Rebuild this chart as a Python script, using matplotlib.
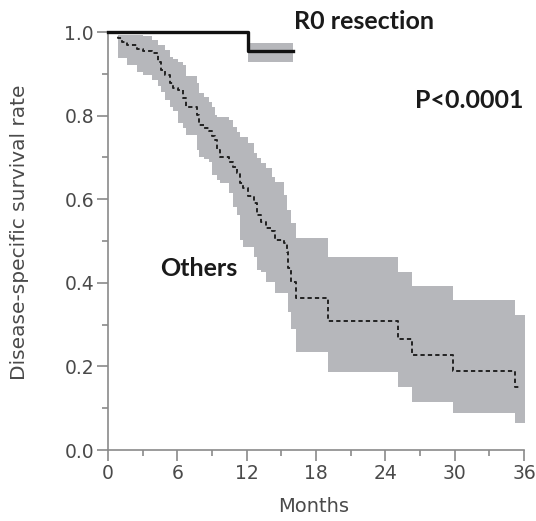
import matplotlib.pyplot as plt
from matplotlib.ticker import MultipleLocator

# Others group: Kaplan-Meier step curve (time in months, survival after each event)
t_others = [0, 0.87, 1.21, 1.65, 2.51, 3.03, 3.81, 4.33, 4.59, 4.94, 5.37, 5.63, 6.06,
            6.49, 6.75, 7.71, 7.88, 8.31, 8.74, 9.00, 9.26, 9.44, 9.70, 10.48, 10.82,
            11.17, 11.43, 11.69, 12.12, 12.64, 12.90, 13.25, 13.68, 14.20, 14.46,
            15.24, 15.50, 15.58, 15.84, 16.28, 19.05, 25.11, 26.32, 29.87, 35.24]
s_others = [1.0, 0.986, 0.976, 0.969, 0.959, 0.955, 0.950, 0.928, 0.909, 0.897, 0.878,
            0.866, 0.861, 0.842, 0.821, 0.801, 0.778, 0.770, 0.763, 0.751, 0.742, 0.718,
            0.701, 0.689, 0.677, 0.663, 0.639, 0.627, 0.608, 0.591, 0.562, 0.545, 0.531,
            0.524, 0.502, 0.495, 0.474, 0.435, 0.402, 0.364, 0.309, 0.266, 0.227, 0.189,
            0.151]
up_others = [1.0, 0.993, 0.993, 0.993, 0.993, 0.990, 0.981, 0.969, 0.969, 0.957, 0.940,
             0.935, 0.928, 0.920, 0.895, 0.878, 0.854, 0.845, 0.832, 0.821, 0.801, 0.797,
             0.797, 0.789, 0.773, 0.761, 0.749, 0.749, 0.735, 0.710, 0.699, 0.687, 0.675,
             0.653, 0.641, 0.610, 0.574, 0.574, 0.543, 0.507, 0.462, 0.426, 0.392, 0.359,
             0.323]
lo_others = [1.0, 0.938, 0.938, 0.921, 0.905, 0.897, 0.885, 0.870, 0.856, 0.837, 0.821,
             0.810, 0.782, 0.770, 0.754, 0.718, 0.701, 0.695, 0.689, 0.658, 0.658, 0.646,
             0.639, 0.615, 0.581, 0.562, 0.502, 0.486, 0.486, 0.462, 0.430, 0.426, 0.402,
             0.402, 0.376, 0.376, 0.376, 0.330, 0.290, 0.234, 0.187, 0.151, 0.115, 0.089,
             0.065]
end_line_others = 35.7
end_band_others = 36.1

# R0 resection group
t_r0 = [0, 12.1]
s_r0 = [1.0, 0.954]
up_r0 = [1.0, 0.974]
lo_r0 = [1.0, 0.928]
end_r0 = 16.0

band_color = '#b6b7bb'
axis_color = '#8a8a8a'
text_color = '#4a4a4a'

fig = plt.figure(figsize=(5.36, 5.21), dpi=100)
ax = fig.add_axes([108 / 536, 1 - 450 / 521, 416 / 536, 418 / 521])

# confidence bands
ax.fill_between(t_others + [end_band_others], up_others + [up_others[-1]],
                lo_others + [lo_others[-1]], step='post', color=band_color, lw=0)
ax.fill_between(t_r0[1:] + [end_r0], up_r0[1:] + [up_r0[-1]], lo_r0[1:] + [lo_r0[-1]],
                step='post', color=band_color, lw=0)

# survival curves
ax.step(t_others + [end_line_others], s_others + [s_others[-1]], where='post',
        color='#222222', lw=1.4, ls=(0, (2.2, 1.6)), clip_on=False)
ax.step(t_r0 + [end_r0], s_r0 + [s_r0[-1]], where='post', color='#111111', lw=2.4,
        clip_on=False, zorder=5)

ax.set_xlim(0, 36)
ax.set_ylim(0, 1.0)
ax.xaxis.set_major_locator(MultipleLocator(6))
ax.xaxis.set_minor_locator(MultipleLocator(3))
ax.yaxis.set_major_locator(MultipleLocator(0.2))
ax.yaxis.set_minor_locator(MultipleLocator(0.1))
ax.set_yticks([0, 0.2, 0.4, 0.6, 0.8, 1.0])
ax.set_yticklabels(['0.0', '0.2', '0.4', '0.6', '0.8', '1.0'])

for side in ['top', 'right']:
    ax.spines[side].set_visible(False)
for side in ['left', 'bottom']:
    ax.spines[side].set_color(axis_color)
    ax.spines[side].set_linewidth(1.2)
ax.tick_params(which='major', length=8, width=1.2, color=axis_color,
               labelcolor=text_color, labelsize=13.5, pad=2)
ax.tick_params(which='minor', length=4, width=1.2, color=axis_color)

ax.set_xlabel('Months', fontsize=14, color=text_color)
ax.set_ylabel('Disease-specific survival rate', fontsize=14.5, color=text_color)
ax.xaxis.set_label_coords(0.495, -0.112)
ax.yaxis.set_label_coords(-0.19, 0.52)

bold = dict(family='Lato', weight='bold', fontsize=18, color='#1a1a1a')
ax.text(16.1, 1.024, 'R0 resection', va='center', ha='left', clip_on=False, **bold)
ax.text(26.6, 0.837, 'P<0.0001', va='center', ha='left', **bold)
ax.text(4.5, 0.435, 'Others', va='center', ha='left', **bold)

plt.savefig('out.png', dpi=100)
